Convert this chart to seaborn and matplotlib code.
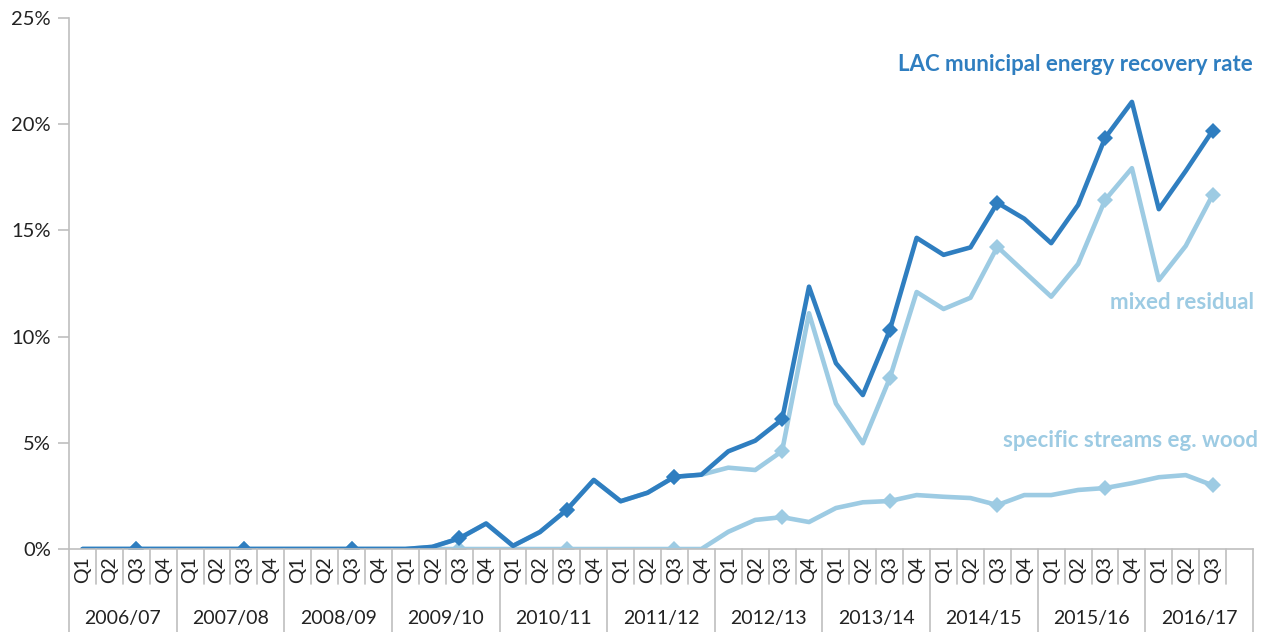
import numpy as np
import pandas as pd
import matplotlib
matplotlib.use("Agg")
import matplotlib.pyplot as plt
import seaborn as sns

# financial years and quarters (last year only has Q1-Q3 of data, 4th slot left blank)
years = ["2006/07", "2007/08", "2008/09", "2009/10", "2010/11", "2011/12",
         "2012/13", "2013/14", "2014/15", "2015/16", "2016/17"]
quarters = ["Q1", "Q2", "Q3", "Q4"]
quarter_labels = quarters * 10 + ["Q1", "Q2", "Q3", ""]

# LAC municipal energy recovery rate (%)
total = [0, 0, 0, 0, 0, 0, 0, 0, 0, 0, 0, 0,
         0, 0.1, 0.5, 1.2, 0.15, 0.8, 1.85, 3.25, 2.25, 2.65, 3.4, 3.5,
         4.6, 5.1, 6.1, 12.35, 8.75, 7.25, 10.3, 14.65, 13.85, 14.2, 16.3, 15.55,
         14.4, 16.2, 19.35, 21.05, 16.0, 17.8, 19.7]

# mixed residual (%)
mixed = [0, 0, 0, 0, 0, 0, 0, 0, 0, 0, 0, 0,
         0, 0.1, 0.5, 1.2, 0.15, 0.8, 1.85, 3.25, 2.25, 2.65, 3.4, 3.5,
         3.83, 3.72, 4.61, 11.1, 6.85, 4.98, 8.04, 12.1, 11.3, 11.83, 14.23, 13.05,
         11.88, 13.42, 16.43, 17.93, 12.66, 14.27, 16.67]

# specific streams eg. wood (%)
specific = [0, 0, 0, 0, 0, 0, 0, 0, 0, 0, 0, 0,
            0, 0, 0, 0, 0, 0, 0, 0, 0, 0, 0, 0,
            0.81, 1.37, 1.5, 1.27, 1.93, 2.2, 2.26, 2.54, 2.46, 2.4, 2.07, 2.54,
            2.54, 2.78, 2.87, 3.1, 3.38, 3.48, 3.0]

dark = "#2F7EC0"
light = "#9DCBE3"
grey = "#BFBFBF"

sns.set_style("white")
plt.rcParams["font.family"] = ["Lato", "DejaVu Sans"]

fig = plt.figure(figsize=(12.69, 6.32), dpi=100)
ax = fig.add_axes([0.0544, 0.1313, 0.9330, 0.8402])

n = len(total)
df = pd.DataFrame({"idx": np.arange(n), "total": total, "mixed": mixed, "specific": specific})
q3 = list(range(2, n, 4))

sns.lineplot(data=df, x="idx", y="specific", ax=ax, color=light, lw=3.3,
             marker="D", markersize=8, markeredgewidth=0, markevery=q3)
sns.lineplot(data=df, x="idx", y="mixed", ax=ax, color=light, lw=3.3,
             marker="D", markersize=8, markeredgewidth=0, markevery=q3)
sns.lineplot(data=df, x="idx", y="total", ax=ax, color=dark, lw=3.3,
             marker="D", markersize=8, markeredgewidth=0, markevery=q3)

ax.set_xlim(-0.5, len(quarter_labels) - 0.5)
ax.set_ylim(0, 25)
ax.set_yticks([0, 5, 10, 15, 20, 25])
ax.set_yticklabels([f"{v}%" for v in [0, 5, 10, 15, 20, 25]], fontsize=14.5, color="#222222")
ax.tick_params(axis="y", length=8, color=grey, width=1.2, pad=5, left=True)

ax.set_xticks(range(len(quarter_labels)))
ax.set_xticklabels(quarter_labels, rotation=90, fontsize=14, color="#222222")
ax.tick_params(axis="x", length=0, pad=5)
ax.set_xlabel("")
ax.set_ylabel("")

for s in ["top", "right"]:
    ax.spines[s].set_visible(False)
for s in ["left", "bottom"]:
    ax.spines[s].set_color(grey)
    ax.spines[s].set_linewidth(1.2)

# category separators under the axis
tr = ax.get_xaxis_transform()
for k in range(len(quarter_labels) + 1):
    xb = k - 0.5
    if k % 4 == 0:
        ax.plot([xb, xb], [0, -0.16], transform=tr, color=grey, lw=1.2, clip_on=False)
    else:
        ax.plot([xb, xb], [0, -0.066], transform=tr, color=grey, lw=1.2, clip_on=False)

# year labels
for i, y in enumerate(years):
    ax.text(i * 4 + 1.5, -0.13, y, transform=tr, ha="center", va="center",
            fontsize=14, color="#222222")

# series labels
ax.text(43.5, 22.8, "LAC municipal energy recovery rate", ha="right", va="center",
        fontsize=16, fontweight="bold", color=dark)
ax.text(43.55, 11.6, "mixed residual", ha="right", va="center",
        fontsize=16, fontweight="bold", color=light)
ax.text(43.7, 5.1, "specific streams eg. wood", ha="right", va="center",
        fontsize=16, fontweight="bold", color=light)

fig.savefig("out.png", dpi=100)
